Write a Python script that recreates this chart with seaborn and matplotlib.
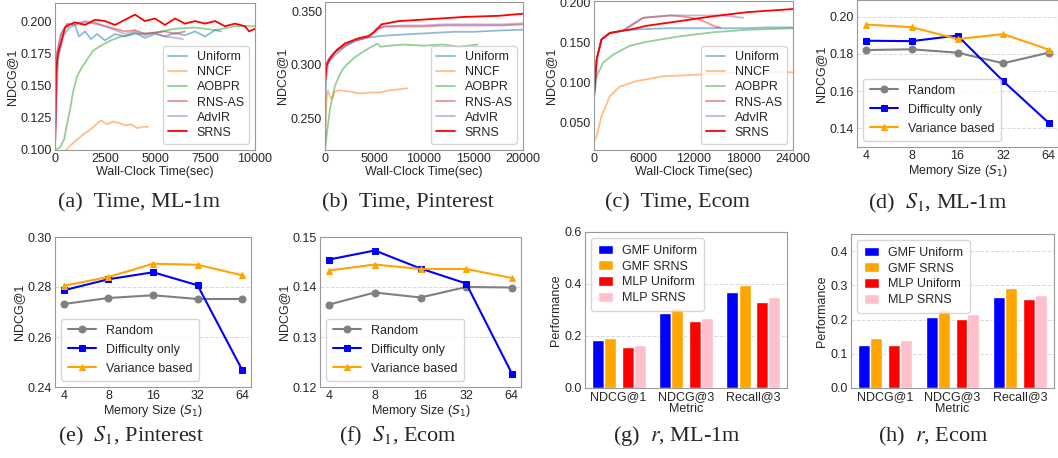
import numpy as np
import seaborn as sns
import matplotlib
matplotlib.use("Agg")
import matplotlib.pyplot as plt
from matplotlib.ticker import FormatStrFormatter

sns.set_style("white")
plt.rcParams['font.family'] = ['Liberation Sans', 'DejaVu Sans']
plt.rcParams['font.size'] = 9

# ---------------- time curves, ML-1m ----------------
ml_uniform_t = [0, 150, 400, 700, 1000, 1200, 1500, 1800, 2100, 2500, 3000, 3500, 4000, 4500, 5000, 5500, 6000, 6500, 7000, 7500, 8000, 8300]
ml_uniform_v = [0.105, 0.170, 0.188, 0.195, 0.197, 0.188, 0.192, 0.186, 0.190, 0.185, 0.190, 0.188, 0.191, 0.187, 0.190, 0.188, 0.191, 0.189, 0.192, 0.188, 0.193, 0.192]
ml_nncf_t = [550, 800, 1100, 1400, 1700, 2000, 2300, 2600, 2900, 3200, 3500, 3800, 4100, 4400, 4650]
ml_nncf_v = [0.100, 0.104, 0.108, 0.112, 0.115, 0.119, 0.123, 0.120, 0.122, 0.121, 0.119, 0.120, 0.117, 0.118, 0.118]
ml_aobpr_t = [0, 250, 450, 600, 750, 900, 1100, 1300, 1600, 1900, 2300, 2800, 3300, 4000, 5000, 6000, 7000, 8000, 9000, 10000]
ml_aobpr_v = [0.100, 0.102, 0.108, 0.120, 0.131, 0.145, 0.157, 0.163, 0.170, 0.177, 0.181, 0.185, 0.188, 0.190, 0.191, 0.194, 0.195, 0.193, 0.196, 0.196]
ml_rnsas_t = [0, 100, 300, 600, 1000, 1500, 2000, 2500, 3000, 3500, 4000, 4500, 5000, 5500, 6000, 6500]
ml_rnsas_v = [0.100, 0.175, 0.190, 0.198, 0.197, 0.199, 0.198, 0.196, 0.194, 0.192, 0.193, 0.190, 0.191, 0.192, 0.190, 0.192]
ml_advir_t = [0, 100, 300, 600, 1000, 1500, 2000, 2500, 3000, 3500, 4000, 4500, 5000, 5500, 6000, 6400]
ml_advir_v = [0.100, 0.175, 0.190, 0.197, 0.198, 0.200, 0.199, 0.196, 0.193, 0.190, 0.192, 0.189, 0.191, 0.188, 0.187, 0.186]
ml_srns_t = [0, 50, 150, 300, 500, 700, 1000, 1500, 2000, 2500, 3000, 3500, 4000, 4500, 5000, 5500, 6000, 6500, 7000, 7500, 8000, 8500, 9000, 9500, 9700, 10000]
ml_srns_v = [0.100, 0.160, 0.175, 0.183, 0.195, 0.197, 0.199, 0.197, 0.201, 0.200, 0.197, 0.201, 0.205, 0.200, 0.202, 0.197, 0.202, 0.198, 0.200, 0.198, 0.200, 0.196, 0.198, 0.196, 0.192, 0.194]

# ---------------- time curves, Pinterest ----------------
pin_uniform_t = [0, 100, 300, 600, 1000, 1500, 2000, 3000, 4000, 4800, 5500, 7000, 9000, 11000, 13000, 15000, 17000, 20000]
pin_uniform_v = [0.222, 0.285, 0.300, 0.305, 0.309, 0.313, 0.317, 0.322, 0.325, 0.326, 0.327, 0.328, 0.329, 0.330, 0.331, 0.331, 0.332, 0.333]
pin_nncf_t = [0, 150, 300, 500, 700, 1000, 1500, 2500, 3500, 4500, 5500, 6500, 7500, 8300]
pin_nncf_v = [0.222, 0.268, 0.276, 0.270, 0.268, 0.275, 0.276, 0.275, 0.273, 0.274, 0.274, 0.276, 0.277, 0.278]
pin_aobpr_t = [0, 250, 500, 750, 1000, 1400, 1800, 2300, 3000, 3800, 4500, 5300, 5600, 6500, 8000, 10000, 12000, 13500, 15400]
pin_aobpr_v = [0.220, 0.240, 0.258, 0.270, 0.280, 0.289, 0.296, 0.301, 0.307, 0.312, 0.316, 0.320, 0.317, 0.318, 0.319, 0.318, 0.319, 0.317, 0.319]
pin_rnsas_t = [0, 100, 300, 600, 1000, 1500, 2000, 3000, 4000, 4600, 5200, 6000, 8000, 10000, 12000, 14000, 16000, 18000, 20000]
pin_rnsas_v = [0.283, 0.298, 0.304, 0.308, 0.312, 0.315, 0.318, 0.323, 0.325, 0.327, 0.333, 0.336, 0.336, 0.336, 0.337, 0.337, 0.337, 0.337, 0.338]
pin_advir_t = [0, 100, 300, 600, 1000, 1500, 2000, 3000, 4000, 4600, 5200, 6000, 8000, 10000, 12000, 14000, 16000, 18000, 20000]
pin_advir_v = [0.283, 0.298, 0.304, 0.308, 0.312, 0.315, 0.318, 0.323, 0.325, 0.328, 0.334, 0.336, 0.337, 0.337, 0.338, 0.338, 0.338, 0.338, 0.339]
pin_srns_t = [0, 170, 500, 1200, 2000, 3400, 4400, 5000, 5700, 7400, 9100, 10800, 14100, 17500, 20000]
pin_srns_v = [0.283, 0.300, 0.306, 0.314, 0.320, 0.325, 0.327, 0.331, 0.338, 0.341, 0.342, 0.343, 0.345, 0.346, 0.348]

# ---------------- time curves, Ecom ----------------
ec_uniform_t = [0, 320, 900, 1900, 3500, 4700, 6000, 9000, 12000, 15000, 18000, 21000, 24000]
ec_uniform_v = [0.083, 0.129, 0.154, 0.162, 0.165, 0.166, 0.167, 0.168, 0.168, 0.168, 0.168, 0.169, 0.169]
ec_nncf_t = [0, 320, 900, 1900, 3100, 5100, 8300, 12400, 16400, 20400, 24000]
ec_nncf_v = [0.027, 0.033, 0.058, 0.083, 0.095, 0.102, 0.108, 0.110, 0.112, 0.113, 0.113]
ec_aobpr_t = [0, 320, 1100, 2300, 4300, 6300, 10400, 14400, 18400, 24000]
ec_aobpr_v = [0.080, 0.108, 0.125, 0.135, 0.146, 0.151, 0.158, 0.163, 0.166, 0.168]
ec_rnsas_t = [0, 320, 900, 1900, 3500, 4300, 5900, 9200, 10400, 12400, 13600, 14600, 15200]
ec_rnsas_v = [0.083, 0.129, 0.154, 0.162, 0.165, 0.170, 0.181, 0.184, 0.183, 0.180, 0.175, 0.170, 0.169]
ec_advir_t = [0, 320, 900, 1900, 3500, 4300, 5900, 9200, 12400, 15000, 16400, 18000]
ec_advir_v = [0.083, 0.129, 0.154, 0.162, 0.165, 0.171, 0.181, 0.184, 0.184, 0.184, 0.183, 0.181]
ec_srns_t = [0, 320, 900, 1900, 3500, 4700, 6300, 10400, 14400, 18400, 24000]
ec_srns_v = [0.083, 0.129, 0.154, 0.162, 0.165, 0.167, 0.171, 0.177, 0.183, 0.188, 0.192]

methods = ["Uniform", "NNCF", "AOBPR", "RNS-AS", "AdvIR", "SRNS"]

# ---------------- memory size ----------------
mem_sizes = [4, 8, 16, 32, 64]
ml_random = [0.1821, 0.1825, 0.1807, 0.1750, 0.1807]
ml_difficulty = [0.1871, 0.1869, 0.1899, 0.1654, 0.1429]
ml_variance = [0.1958, 0.1944, 0.1880, 0.1907, 0.1823]
pin_random = [0.2732, 0.2756, 0.2767, 0.2752, 0.2752]
pin_difficulty = [0.2787, 0.2831, 0.2859, 0.2807, 0.2469]
pin_variance = [0.2805, 0.2840, 0.2893, 0.2889, 0.2847]
ec_random = [0.1365, 0.1389, 0.1379, 0.1400, 0.1399]
ec_difficulty = [0.1455, 0.1473, 0.1437, 0.1407, 0.1227]
ec_variance = [0.1433, 0.1445, 0.1436, 0.1436, 0.1418]

# ---------------- r (model) ----------------
metrics = ["NDCG@1", "NDCG@3", "Recall@3"]
bar_methods = ["GMF Uniform", "GMF SRNS", "MLP Uniform", "MLP SRNS"]
ml_gmf_uniform = [0.184, 0.290, 0.369]
ml_gmf_srns = [0.194, 0.309, 0.395]
ml_mlp_uniform = [0.157, 0.257, 0.332]
ml_mlp_srns = [0.164, 0.269, 0.349]
ec_gmf_uniform = [0.127, 0.208, 0.267]
ec_gmf_srns = [0.146, 0.229, 0.291]
ec_mlp_uniform = [0.125, 0.202, 0.260]
ec_mlp_srns = [0.139, 0.215, 0.271]

W, H = 1058, 458
fig = plt.figure(figsize=(W / 100, H / 100), dpi=100)


def rect(l, t, r, b):
    return [l / W, 1 - b / H, (r - l) / W, (b - t) / H]


def style(ax):
    for s in ax.spines.values():
        s.set_color("0.6")
        s.set_linewidth(0.8)
    ax.tick_params(length=0, pad=2, labelsize=9)


line_colors = ['#1f77b4', '#ff7f0e', '#2ca02c', '#d62728', '#9467bd', 'red']
line_alpha = [0.5, 0.5, 0.5, 0.5, 0.5, 1.0]


def time_panel(ax, curves, xmax, xticks, ylim, yticks):
    for name, (t, v), c, a in zip(methods, curves, line_colors, line_alpha):
        sns.lineplot(x=t, y=v, ax=ax, color=c, alpha=a, lw=1.3, label=name)
    ax.set_xlim(0, xmax)
    ax.set_xticks(xticks)
    ax.set_ylim(*ylim)
    ax.set_yticks(yticks)
    ax.yaxis.set_major_formatter(FormatStrFormatter('%.3f'))
    ax.set_xlabel("Wall-Clock Time(sec)", fontsize=9, labelpad=1)
    ax.set_ylabel("NDCG@1", fontsize=9, labelpad=2)
    ax.legend(loc="lower right", fontsize=9, handlelength=1.5, labelspacing=0.25,
              borderpad=0.4, edgecolor="0.8", fancybox=True)
    style(ax)


ax = fig.add_axes(rect(55, 3, 255, 150))
time_panel(ax, [(ml_uniform_t, ml_uniform_v), (ml_nncf_t, ml_nncf_v), (ml_aobpr_t, ml_aobpr_v),
                (ml_rnsas_t, ml_rnsas_v), (ml_advir_t, ml_advir_v), (ml_srns_t, ml_srns_v)],
           10000, [0, 2500, 5000, 7500, 10000], (0.1, 0.214), [0.100, 0.125, 0.150, 0.175, 0.200])

ax = fig.add_axes(rect(325, 2, 523, 150))
time_panel(ax, [(pin_uniform_t, pin_uniform_v), (pin_nncf_t, pin_nncf_v), (pin_aobpr_t, pin_aobpr_v),
                (pin_rnsas_t, pin_rnsas_v), (pin_advir_t, pin_advir_v), (pin_srns_t, pin_srns_v)],
           20000, [0, 5000, 10000, 15000, 20000], (0.22, 0.359), [0.250, 0.300, 0.350])

ax = fig.add_axes(rect(594, 1, 793, 150))
time_panel(ax, [(ec_uniform_t, ec_uniform_v), (ec_nncf_t, ec_nncf_v), (ec_aobpr_t, ec_aobpr_v),
                (ec_rnsas_t, ec_rnsas_v), (ec_advir_t, ec_advir_v), (ec_srns_t, ec_srns_v)],
           24000, [0, 6000, 12000, 18000, 24000], (0.016, 0.202), [0.050, 0.100, 0.150, 0.200])


def mem_panel(ax, random_v, diff_v, var_v, ylim, yticks):
    sns.lineplot(x=mem_sizes, y=random_v, ax=ax, color="gray", marker="o", ms=5,
                 mec="gray", lw=1.5, label="Random")
    sns.lineplot(x=mem_sizes, y=diff_v, ax=ax, color="blue", marker="s", ms=5,
                 mec="blue", lw=1.5, label="Difficulty only")
    sns.lineplot(x=mem_sizes, y=var_v, ax=ax, color="orange", marker="^", ms=5,
                 mec="orange", lw=1.5, label="Variance based")
    ax.set_xscale("log", base=2)
    ax.set_xticks(mem_sizes)
    ax.set_xticklabels([str(m) for m in mem_sizes])
    ax.minorticks_off()
    ax.set_xlim(2 ** 1.8, 2 ** 6.2)
    ax.set_ylim(*ylim)
    ax.set_yticks(yticks)
    ax.yaxis.set_major_formatter(FormatStrFormatter('%.2f'))
    ax.yaxis.grid(True, linestyle="--", color="0.85", linewidth=0.7)
    ax.set_xlabel(r"Memory Size ($S_1$)", fontsize=9, labelpad=1)
    ax.set_ylabel("NDCG@1", fontsize=9, labelpad=2)
    ax.legend(loc="lower left", fontsize=9, handlelength=2.3, labelspacing=0.55,
              borderpad=0.5, edgecolor="0.8", fancybox=True)
    style(ax)


ax = fig.add_axes(rect(857, 0, 1058, 147))
mem_panel(ax, ml_random, ml_difficulty, ml_variance, (0.13, 0.209), [0.14, 0.16, 0.18, 0.20])
ax = fig.add_axes(rect(55, 237, 251, 387))
mem_panel(ax, pin_random, pin_difficulty, pin_variance, (0.24, 0.30), [0.24, 0.26, 0.28, 0.30])
ax = fig.add_axes(rect(320, 237, 521, 387))
mem_panel(ax, ec_random, ec_difficulty, ec_variance, (0.12, 0.15), [0.12, 0.13, 0.14, 0.15])

bar_colors = ["blue", "orange", "red", "pink"]
bar_offsets = [-0.31, -0.13, 0.135, 0.31]


def bar_panel(ax, series, ylim, yticks):
    x = np.arange(len(metrics))
    for vals, name, c, off in zip(series, bar_methods, bar_colors, bar_offsets):
        ax.bar(x + off, vals, width=0.178, color=c, label=name)
    ax.set_xticks(x)
    ax.set_xticklabels(metrics)
    ax.set_xlim(-0.5, 2.5)
    ax.set_ylim(*ylim)
    ax.set_yticks(yticks)
    ax.yaxis.set_major_formatter(FormatStrFormatter('%.1f'))
    ax.yaxis.grid(True, linestyle="--", color="0.85", linewidth=0.7)
    ax.set_axisbelow(True)
    ax.set_xlabel("Metric", fontsize=9, labelpad=0)
    ax.set_ylabel("Performance", fontsize=9, labelpad=2)
    ax.legend(loc="upper left", fontsize=9, handlelength=1.2, handleheight=0.8,
              labelspacing=0.3, borderpad=0.5, edgecolor="0.8", fancybox=True)
    style(ax)


ax = fig.add_axes(rect(585, 232, 787, 388))
bar_panel(ax, [ml_gmf_uniform, ml_gmf_srns, ml_mlp_uniform, ml_mlp_srns], (0, 0.6), [0.0, 0.2, 0.4, 0.6])
ax = fig.add_axes(rect(851, 234, 1054, 388))
bar_panel(ax, [ec_gmf_uniform, ec_gmf_srns, ec_mlp_uniform, ec_mlp_srns], (0, 0.45), [0.0, 0.1, 0.2, 0.3, 0.4])

captions = [
    (139, 203, "(a)  Time, ML-1m"),
    (408, 203, "(b)  Time, Pinterest"),
    (677, 203, "(c)  Time, Ecom"),
    (937, 203, r"(d)  $S_1$, ML-1m"),
    (131, 436, r"(e)  $S_1$, Pinterest"),
    (398, 436, r"(f)  $S_1$, Ecom"),
    (677, 436, r"(g)  $r$, ML-1m"),
    (933, 436, r"(h)  $r$, Ecom"),
]
for cx, cy, txt in captions:
    fig.text(cx / W, 1 - cy / H, txt, ha="center", va="center", fontsize=16,
             family="Liberation Serif", math_fontfamily="stix")

fig.savefig("out.png", dpi=100)
